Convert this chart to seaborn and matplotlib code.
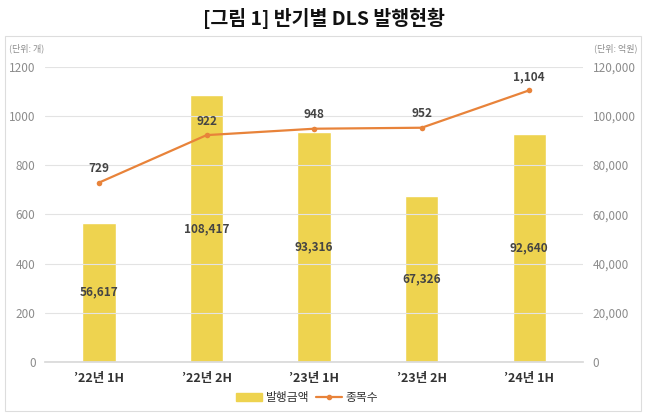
import pandas as pd
import seaborn as sns
import matplotlib.pyplot as plt
from matplotlib.patches import Rectangle
from matplotlib.ticker import FuncFormatter

periods = ["\u201922년 1H", "\u201922년 2H", "\u201923년 1H", "\u201923년 2H", "\u201924년 1H"]
amount = [56617, 108417, 93316, 67326, 92640]   # 발행금액 (억원)
count = [729, 922, 948, 952, 1104]              # 종목수 (개)

df = pd.DataFrame({"period": periods, "amount": amount, "count": count})

sns.set_theme(style="white")
plt.rcParams['font.family'] = ['Noto Sans CJK KR', 'DejaVu Sans']

BAR = "#EED34F"
LINE = "#E8833A"
GREY = "#8C8C8C"

fig = plt.figure(figsize=(6.47, 4.17), dpi=100)
fig.patches.append(Rectangle((0.008, 0.014), 0.982, 0.90, transform=fig.transFigure,
                             fill=False, edgecolor="#DDDDDD", linewidth=0.8))
fig.text(0.5, 0.955, "[그림 1] 반기별 DLS 발행현황", ha="center", va="center",
         fontsize=14, fontweight="bold", color="#111111")

ax = fig.add_axes([0.07, 0.132, 0.831, 0.708])
ax2 = ax.twinx()

# bars on the right (억원) axis
sns.barplot(data=df, x="period", y="amount", ax=ax2, color=BAR, width=0.31,
            saturation=1, zorder=2)
ax2.set_ylim(0, 120000)
ax2.set_yticks(range(0, 120001, 20000))
ax2.yaxis.set_major_formatter(FuncFormatter(lambda v, p: f"{int(v):,}"))
for i, v in enumerate(amount):
    ax2.text(i, v / 2, f"{v:,}", ha="center", va="center", fontsize=8.5,
             fontweight="bold", color="#444444")

# line on the left (개) axis
ax.set_ylim(0, 1200)
ax.set_yticks(range(0, 1201, 200))
ax.grid(axis="y", color="#E3E3E3", linewidth=0.8)
ax.set_zorder(ax2.get_zorder() + 1)
ax.patch.set_visible(False)
sns.lineplot(data=df, x="period", y="count", ax=ax, color=LINE, marker="o",
             markersize=4, markeredgewidth=0, linewidth=1.6, sort=False)
for i, v in enumerate(count):
    ax.annotate(f"{v:,}", (i, v), xytext=(0, 10), textcoords="offset points",
                ha="center", va="center", fontsize=8.5, fontweight="bold",
                color="#444444")

ax.set_xlim(-0.5, 4.5)
for a in (ax, ax2):
    a.set_xlabel("")
    a.set_ylabel("")
    for s in a.spines.values():
        s.set_visible(False)
    a.tick_params(axis="y", length=0, labelsize=8.5, labelcolor=GREY, pad=7)
ax.spines["bottom"].set_visible(True)
ax.spines["bottom"].set_color("#D9D9D9")
ax.tick_params(axis="x", length=0, labelsize=9, pad=7)
for lab in ax.get_xticklabels():
    lab.set_fontweight("bold")
    lab.set_color("#333333")

fig.text(0.014, 0.885, "(단위: 개)", fontsize=6.5, color=GREY, va="center")
fig.text(0.985, 0.885, "(단위: 억원)", fontsize=6.5, color=GREY, va="center", ha="right")

# legend
handles = [Rectangle((0, 0), 1, 1, color=BAR),
           plt.Line2D([], [], color=LINE, marker="o", markersize=3, linewidth=1.6)]
fig.legend(handles, ["발행금액", "종목수"], loc="center", bbox_to_anchor=(0.475, 0.047),
           ncol=2, frameon=False, fontsize=8.5, handlelength=2.2, columnspacing=0.6,
           handletextpad=0.3, labelcolor="#333333")

fig.savefig("out.png", dpi=100)
